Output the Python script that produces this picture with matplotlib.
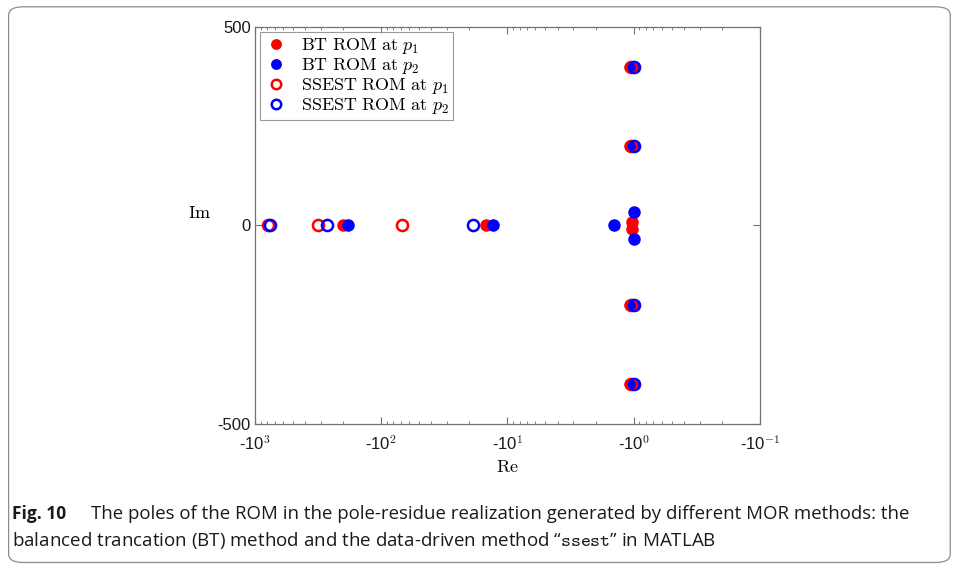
import numpy as np
import matplotlib
matplotlib.use("Agg")
import matplotlib.pyplot as plt
from matplotlib.ticker import LogLocator, FuncFormatter, NullFormatter
from matplotlib.patches import FancyBboxPatch

plt.rcParams['mathtext.fontset'] = 'cm'
plt.rcParams['axes.unicode_minus'] = False

bt_p1_re = [-200, -14.7, -1.03, -1.03, -1.07, -1.07, -1.07, -1.07]
bt_p1_im = [0, 0, 10, -10, 200, -200, 400, -400]

bt_p2_re = [-183, -12.9, -1.42, -1.0, -1.0, -1.0, -1.0, -1.0, -1.0]
bt_p2_im = [0, 0, 0, 33, -33, 200, -200, 400, -400]

ssest_p1_re = [-790, -316, -68, -1.05, -1.05, -1.05, -1.05]
ssest_p1_im = [0, 0, 0, 200, -200, 400, -400]

ssest_p2_re = [-760, -268, -18.6, -1.0, -1.0, -1.0, -1.0]
ssest_p2_im = [0, 0, 0, 200, -200, 400, -400]

labels = [r"$\mathrm{BT\ ROM\ at\ }p_1$", r"$\mathrm{BT\ ROM\ at\ }p_2$",
          r"$\mathrm{SSEST\ ROM\ at\ }p_1$", r"$\mathrm{SSEST\ ROM\ at\ }p_2$"]

caption_1 = "The poles of the ROM in the pole-residue realization generated by different MOR methods: the"
caption_2 = "balanced trancation (BT) method and the data-driven method \u201c" + r"$\mathtt{ssest}$" + "\u201d in MATLAB"

fig = plt.figure(figsize=(9.56, 5.67), dpi=100)
ax = fig.add_axes([0.2667, 0.2522, 0.5282, 0.7002])

ms = 8
ax.plot(-np.array(bt_p1_re), bt_p1_im, 'o', color='red', ms=ms, mec='red', ls='none', label=labels[0])
ax.plot(-np.array(bt_p2_re), bt_p2_im, 'o', color='blue', ms=ms, mec='blue', ls='none', label=labels[1])
ax.plot(-np.array(ssest_p1_re), ssest_p1_im, 'o', mfc='none', mec='red', ms=ms, mew=1.8, ls='none', label=labels[2])
ax.plot(-np.array(ssest_p2_re), ssest_p2_im, 'o', mfc='none', mec='blue', ms=ms, mew=1.8, ls='none', label=labels[3])

ax.set_xscale('log')
ax.set_xlim(1000, 0.1)
ax.set_ylim(-500, 500)
ax.set_yticks([-500, 0, 500])
ax.xaxis.set_major_locator(LogLocator(base=10, numticks=10))
ax.xaxis.set_minor_locator(LogLocator(base=10, subs=np.arange(2, 10), numticks=20))
ax.xaxis.set_minor_formatter(NullFormatter())
ax.xaxis.set_major_formatter(FuncFormatter(
    lambda v, p: "-10" + r"$^{\mathsf{%d}}$" % round(np.log10(v)) if round(np.log10(v)) >= 0
    else "-10" + r"$^{\mathsf{-%d}}$" % abs(round(np.log10(v)))))

for s in ax.spines.values():
    s.set_color('0.45')
    s.set_linewidth(0.9)
ax.tick_params(which='both', direction='in', top=True, right=True, color='0.45',
               labelsize=12, labelcolor='0.1', labelfontfamily='Liberation Sans')
ax.tick_params(which='major', length=5, width=0.8)
ax.tick_params(which='minor', length=2.5, width=0.6)
ax.tick_params(axis='x', pad=7)
ax.tick_params(axis='y', pad=3)

ax.set_xlabel(r"$\mathrm{Re}$", fontsize=13)
ax.xaxis.set_label_coords(0.5, -0.085)
ax.set_ylabel(r"$\mathrm{Im}$", fontsize=13, rotation=0)
ax.yaxis.set_label_coords(-0.11, 0.51)

leg = ax.legend(loc='upper left', fontsize=13, frameon=True, fancybox=False,
                borderaxespad=0.3, handlelength=1.35, handletextpad=0.7,
                labelspacing=0.0, borderpad=0.2, markerscale=0.85)
leg.get_frame().set_edgecolor('0.5')
leg.get_frame().set_linewidth(0.8)

# caption and frame
border = FancyBboxPatch((0.009, 0.008), 0.985, 0.98, boxstyle="round,pad=0,rounding_size=0.015",
                        transform=fig.transFigure, fill=False, ec='0.55', lw=0.9)
fig.patches.append(border)
cap_font = 'Open Sans'
fig.text(0.0125, 0.085, "Fig. 10", fontsize=12.5, fontweight='bold', family=cap_font, va='baseline', color='0.1')
t1 = fig.text(0.095, 0.085, caption_1, fontsize=12.5, family=cap_font, va='baseline', color='0.1')
t2 = fig.text(0.0125, 0.037, caption_2, fontsize=12.5, family=cap_font, va='baseline', color='0.1')

# squeeze the caption lines to the widths they have in the original
r = fig.canvas.get_renderer()
for t, x0, x1 in [(t1, 91, 912), (t2, 12, 718)]:
    w = t.get_window_extent(r).width
    t.set_fontsize(t.get_fontsize() * (x1 - x0) / w)

fig.savefig("out.png", dpi=100)
